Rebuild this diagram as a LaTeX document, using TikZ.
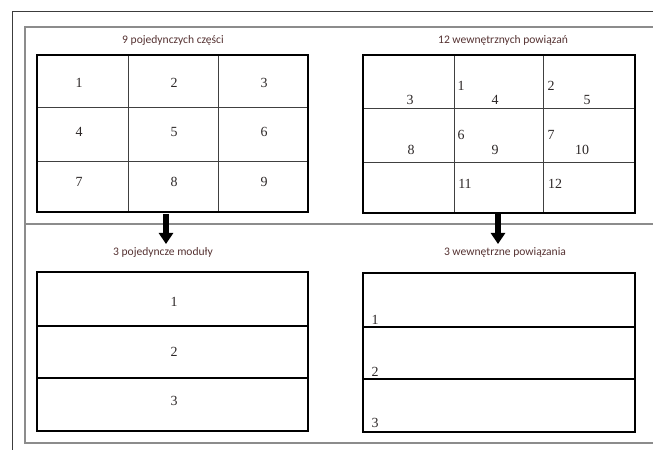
\documentclass[tikz,border=0pt]{standalone}
\usepackage{fontspec}
\setmainfont{Liberation Serif}
\newfontfamily\titlefont{Carlito}
\usetikzlibrary{arrows.meta}
\definecolor{titlecol}{RGB}{85,50,50}
\definecolor{numcol}{RGB}{45,40,40}
\definecolor{framecol}{RGB}{60,60,60}
\definecolor{innercol}{RGB}{140,140,140}
\tikzset{
  ttl/.style={font=\titlefont\fontsize{11.6}{13}\selectfont, text=titlecol, inner sep=0pt},
  num/.style={font=\fontsize{14}{16}\selectfont, text=numcol, inner sep=0pt},
  gridbox/.style={draw=black, line width=2.6bp},
  gridline/.style={draw=black!75, line width=0.9bp},
  modline/.style={draw=black, line width=2.4bp},
  flow/.style={line width=6bp, -{Triangle[width=14bp,length=11bp]}},
}
\begin{document}
\begin{tikzpicture}[x=1bp,y=-1bp]
\useasboundingbox (0,0) rectangle (653,450);
\fill[white] (0,0) rectangle (653,450);
% outer frame
\draw[framecol, line width=1bp] (653,12) -- (12,12) -- (12,450);
% inner frame
\draw[innercol, line width=1.6bp] (653,27) -- (25,27) -- (25,443) -- (653,443);
\draw[innercol, line width=1.6bp] (25,224) -- (653,224);

% ---------- top left grid ----------
\node[ttl] (tl) at (173,40) {9 pojedynczych części};
\draw[gridline] (128,55) -- (128,212) (218,55) -- (218,212) (37,107) -- (308,107) (37,161) -- (308,161);
\draw[gridbox] (37,55) rectangle (308,212);
\coordinate (gA) at (166,214);
\node[num] (a1) at (79,83) {1};
\node[num] (a2) at (174,83) {2};
\node[num] (a3) at (264,83) {3};
\node[num] (a4) at (79,132) {4};
\node[num] (a5) at (174,132) {5};
\node[num] (a6) at (264,132) {6};
\node[num] (a7) at (79,182) {7};
\node[num] (a8) at (174,182) {8};
\node[num] (a9) at (264,182) {9};

% ---------- top right grid ----------
\node[ttl] (tr) at (503,40) {12 wewnętrznych powiązań};
\draw[gridline] (454,55) -- (454,213) (543,55) -- (543,213) (363,108) -- (635,108) (363,162) -- (635,162);
\draw[gridbox] (363,55) rectangle (635,213);
\coordinate (gB) at (498,214);
\node[num] (b3) at (410,100) {3};
\node[num] (b1) at (461,86) {1};
\node[num] (b4) at (495,100) {4};
\node[num] (b2) at (551,86) {2};
\node[num] (b5) at (587,100) {5};
\node[num] (b8) at (411,150) {8};
\node[num] (b6) at (461,135) {6};
\node[num] (b9) at (495,150) {9};
\node[num] (b7) at (551,135) {7};
\node[num] (b10) at (582,150) {10};
\node[num] (b11) at (465,184) {11};
\node[num] (b12) at (555,184) {12};

% ---------- bottom left ----------
\node[ttl] (bl) at (163,252) {3 pojedyncze moduły};
\draw[modline] (37,326) -- (308,326) (37,378) -- (308,378);
\draw[gridbox] (37,272) rectangle (308,431);
\node[num] (c1) at (174,302) {1};
\node[num] (c2) at (174,352) {2};
\node[num] (c3) at (174,401) {3};

% ---------- bottom right ----------
\node[ttl] (br) at (505,252) {3 wewnętrzne powiązania};
\draw[modline] (363,327) -- (635,327) (363,379) -- (635,379);
\draw[gridbox] (363,273) rectangle (635,432);
\node[num] (d1) at (375,320) {1};
\node[num] (d2) at (375,372) {2};
\node[num] (d3) at (375,423) {3};

% arrows
\coordinate (eA) at (166,244);
\coordinate (eB) at (498,244);
\draw[flow] (gA) -- (eA);
\draw[flow] (gB) -- (eB);
\end{tikzpicture}
\end{document}
